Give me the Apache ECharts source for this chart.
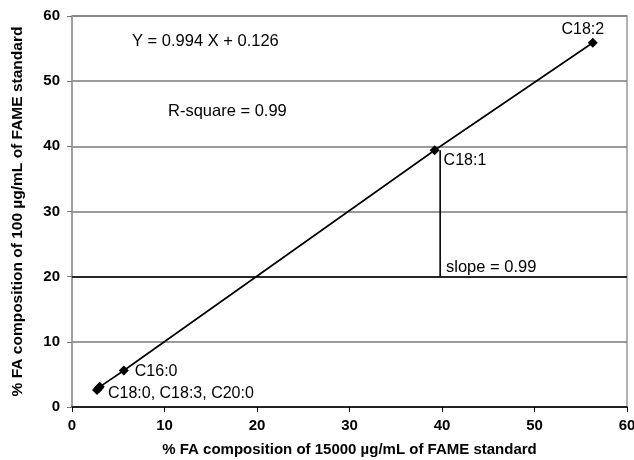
<!DOCTYPE html>
<html><head><meta charset="utf-8">
<script src="https://cdn.jsdelivr.net/npm/echarts@6/dist/echarts.min.js"></script>
<style>html,body{margin:0;padding:0;background:#fff}#c{width:634px;height:460px}</style>
</head><body><div id="c"></div>
<script>
const pointNames = ['C18:0', 'C18:3', 'C20:0', 'C16:0', 'C18:1', 'C18:2'];
const xValues = [2.7, 2.9, 3.0, 5.6, 39.2, 56.3];
const yValues = [2.6, 2.9, 3.1, 5.6, 39.4, 55.9];
const pointLabels = ['C18:0, C18:3, C20:0', '', '', 'C16:0', 'C18:1', 'C18:2'];
const slopeX = [39.8, 39.8];
const slopeY = [39.4, 20];
const xTicks = [0, 10, 20, 30, 40, 50, 60];
const yTicks = [0, 10, 20, 30, 40, 50, 60];

const FONT = 'Liberation Sans, Arial, sans-serif';
const labelPos = {
  'C18:0, C18:3, C20:0': {position: 'right', offset: [1, 4]},
  'C16:0': {position: 'right', offset: [1, 1]},
  'C18:1': {position: 'right', offset: [-1, 10]},
  'C18:2': {position: 'top', offset: [-10, 5]}
};
const data = xValues.map((x, i) => {
  const lbl = pointLabels[i];
  const o = {name: pointNames[i], value: [x, yValues[i]]};
  if (lbl) {
    o.label = Object.assign({show: true, formatter: lbl, color: '#000', fontSize: 16, fontFamily: FONT}, labelPos[lbl]);
  }
  return o;
});

const chart = echarts.init(document.getElementById('c'), null, {renderer: 'canvas'});
chart.setOption({
  animation: false,
  backgroundColor: '#fff',
  grid: {left: 72, right: 7, top: 16, bottom: 53, containLabel: false, outerBoundsMode: 'none',
         show: true, borderColor: '#999', borderWidth: 1.5, backgroundColor: 'transparent'},
  xAxis: {
    type: 'value', min: xTicks[0], max: xTicks[xTicks.length - 1], interval: 10,
    name: '% FA composition of 15000 µg/mL of FAME standard',
    nameLocation: 'middle', nameGap: 35,
    nameTextStyle: {fontWeight: 'bold', fontSize: 15, fontFamily: FONT, color: '#000'},
    axisLine: {show: true, lineStyle: {color: '#000', width: 1.5}},
    axisTick: {show: true, inside: false, length: 5, lineStyle: {color: '#000'}},
    axisLabel: {fontWeight: 'bold', fontSize: 15, fontFamily: FONT, color: '#000', margin: 11},
    splitLine: {show: false}
  },
  yAxis: {
    type: 'value', min: yTicks[0], max: yTicks[yTicks.length - 1], interval: 10,
    name: '% FA composition of 100 µg/mL of FAME standard',
    nameLocation: 'middle', nameGap: 46, nameRotate: 90,
    nameTextStyle: {fontWeight: 'bold', fontSize: 15.5, fontFamily: FONT, color: '#000'},
    axisLine: {show: true, lineStyle: {color: '#999', width: 1.5}},
    axisTick: {show: true, inside: false, length: 5, lineStyle: {color: '#777'}},
    axisLabel: {fontWeight: 'bold', fontSize: 15, fontFamily: FONT, color: '#000', margin: 12},
    splitLine: {show: true, lineStyle: {color: '#7a7a7a', width: 1.5}}
  },
  series: [
    {
      type: 'line', data: data, symbol: 'diamond', symbolSize: 10,
      itemStyle: {color: '#000'},
      lineStyle: {color: '#000', width: 1.6},
      z: 5,
      markLine: {
        silent: true, symbol: 'none', label: {show: false},
        lineStyle: {color: '#000', width: 1.6, type: 'solid'},
        data: [{yAxis: 20}]
      }
    },
    {
      type: 'line', data: slopeX.map((x, i) => [x, slopeY[i]]), symbol: 'none',
      lineStyle: {color: '#000', width: 1.6}, z: 4
    }
  ],
  graphic: [
    {type: 'text', left: 132, top: 33, style: {text: 'Y = 0.994 X + 0.126', fontSize: 16.5, fontFamily: FONT, fill: '#000'}},
    {type: 'text', left: 168, top: 103, style: {text: 'R-square = 0.99', fontSize: 16.5, fontFamily: FONT, fill: '#000'}},
    {type: 'text', left: 446, top: 259, style: {text: 'slope = 0.99', fontSize: 16.5, fontFamily: FONT, fill: '#000'}}
  ]
});
</script></body></html>
